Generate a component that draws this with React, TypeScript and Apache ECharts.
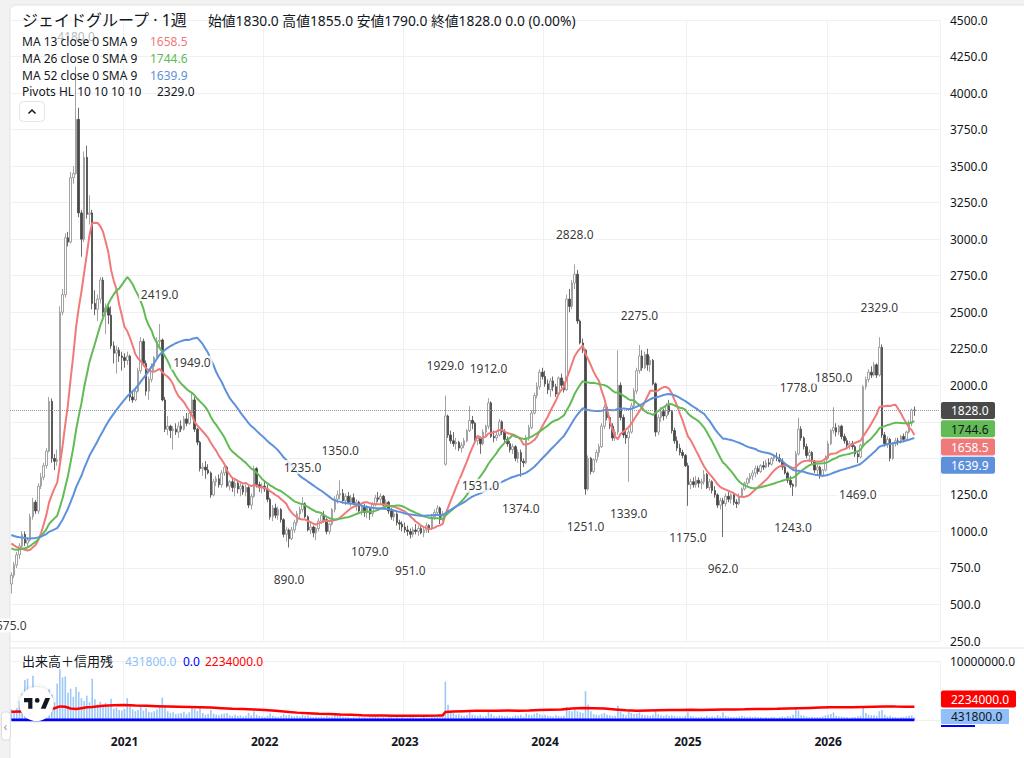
import React, { useEffect, useRef } from "react";
import * as echarts from "echarts";

const FONT = "'Noto Sans', 'Noto Sans CJK JP', sans-serif";
const TEXT = "#131722";
const RED = "#f07a7a";
const GREEN = "#62bb55";
const BLUE = "#5e91dc";

const START_DATE = "2020-03-16";
const PAD_WEEKS = 9;

const TITLE = "ジェイドグループ · 1週";
const LAST = { open: 1830.0, high: 1855.0, low: 1790.0, close: 1828.0 };
const MA_PERIODS = [13, 26, 52];
const MA_LABELS = ["MA 13 close 0 SMA 9", "MA 26 close 0 SMA 9", "MA 52 close 0 SMA 9"];
const MA_VALUES = ["1658.5", "1744.6", "1639.9"];
const PIVOT_LABEL = "Pivots HL 10 10 10 10";
const PIVOT_LAST = "2329.0";
const VOL_TITLE = "出来高＋信用残";
const VOL_LAST = 431800;
const ZERO_LAST = 0;
const CREDIT_LAST = 2234000;

const PRICE_MIN = 250;
const PRICE_MAX = 4500;
const PRICE_STEP = 250;
const PRICE_TOP = 20;
const PRICE_H = 621;

// closes of the 52 weeks before the first visible candle (for the moving averages)
const WARMUP_CLOSES = [
  1080, 1100, 1120, 1090, 1060, 1070, 1100, 1130, 1110, 1080, 1060, 1050, 1070, 1090,
  1080, 1060, 1040, 1050, 1070, 1060, 1040, 1030, 1020, 1040, 1050, 1030, 1020,
  960, 900, 860, 840, 820, 810, 830, 820, 800, 820, 840, 860, 890,
  950, 990, 1010, 1020, 1000, 1010, 1030, 990,
  930, 860, 780, 664,
];

// weekly [open, high, low, close]
const OHLC: number[][] = [
  /*0*/ [640,720,575,700],[700,790,680,770],[770,860,750,840],[840,920,810,900],[900,1000,880,980],[980,1000,900,920],[920,960,890,940],[940,1120,930,1100],[1100,1230,1080,1200],[1200,1215,1120,1140],
  /*10*/ [1140,1330,1120,1310],[1310,1400,1290,1370],[1370,1470,1350,1450],[1450,1570,1430,1550],[1550,1920,1540,1890],[1890,1910,1470,1500],[1500,1530,1420,1480],[1480,1560,1450,1490],[1490,2540,1480,2500],[2500,2660,2480,2620],
  /*20*/ [2620,3040,2600,3010],[3010,3050,2950,2980],[2980,3460,2970,3420],[3420,3500,3380,3450],[3450,4180,3440,3820],[3820,3900,3150,3180],[3180,3200,2880,3000],[3000,3600,2980,3560],[3560,3640,3140,3170],[3170,3300,3100,3180],
  /*30*/ [3180,3200,2520,2560],[2560,2650,2480,2520],[2520,2620,2440,2590],[2590,2740,2560,2720],[2720,2740,2470,2500],[2500,2560,2350,2530],[2530,2560,2420,2480],[2480,2540,2250,2270],[2270,2300,2150,2220],[2220,2270,2080,2240],
  /*40*/ [2240,2260,2160,2200],[2200,2230,2100,2190],[2190,2220,2120,2170],[2170,2230,2140,2200],[2200,2210,1890,1920],[1920,1960,1880,1900],[1900,1990,1890,1960],[1960,2120,1950,2100],[2100,2330,2080,2300],[2300,2320,2130,2150],
  /*50*/ [2150,2170,1930,1960],[1960,2060,1900,2040],[2040,2150,2020,2130],[2130,2200,2100,2190],[2190,2330,2170,2300],[2300,2419,2260,2310],[2310,2320,1890,1900],[1900,1920,1680,1700],[1700,1790,1660,1720],[1720,1730,1640,1690],
  /*60*/ [1690,1720,1560,1700],[1700,1740,1660,1680],[1680,1750,1640,1720],[1720,1760,1680,1700],[1700,1790,1690,1770],[1770,1810,1720,1740],[1740,1830,1730,1810],[1810,1949,1790,1900],[1900,1920,1680,1700],[1700,1710,1590,1610],
  /*70*/ [1610,1620,1410,1430],[1430,1470,1380,1440],[1440,1480,1360,1420],[1420,1460,1390,1400],[1400,1410,1230,1250],[1250,1360,1240,1340],[1340,1380,1310,1360],[1360,1390,1300,1320],[1320,1420,1300,1400],[1400,1450,1380,1440],
  /*80*/ [1440,1450,1300,1310],[1310,1350,1280,1340],[1340,1370,1270,1300],[1300,1360,1240,1330],[1330,1350,1260,1290],[1290,1330,1240,1310],[1310,1320,1250,1270],[1270,1320,1240,1300],[1300,1310,1160,1180],[1180,1260,1150,1240],
  /*90*/ [1240,1450,1230,1430],[1430,1440,1300,1320],[1320,1340,1270,1300],[1300,1330,1260,1310],[1310,1340,1270,1290],[1290,1320,1200,1220],[1220,1230,1080,1100],[1100,1180,1070,1160],[1160,1190,1090,1110],[1110,1170,1080,1150],
  /*100*/ [1150,1160,1060,1080],[1080,1090,960,980],[980,1030,930,1010],[1010,1020,890,950],[950,1030,940,1010],[1010,1080,990,1060],[1060,1140,1040,1120],[1120,1170,1090,1150],[1150,1235,1130,1190],[1190,1200,1090,1100],
  /*110*/ [1100,1110,1000,1010],[1010,1060,980,1030],[1030,1040,960,990],[990,1030,940,1020],[1020,1090,1000,1070],[1070,1130,1050,1110],[1110,1140,1060,1080],[1080,1090,980,1000],[1000,1060,980,1050],[1050,1160,1040,1150],
  /*120*/ [1150,1240,1130,1220],[1220,1280,1190,1250],[1250,1350,1220,1260],[1260,1290,1190,1210],[1210,1260,1180,1240],[1240,1270,1190,1200],[1200,1250,1170,1230],[1230,1260,1180,1190],[1190,1220,1140,1200],[1200,1210,1120,1140],
  /*130*/ [1140,1190,1110,1170],[1170,1190,1100,1130],[1130,1180,1090,1160],[1160,1170,1079,1120],[1120,1200,1100,1190],[1190,1250,1170,1230],[1230,1270,1200,1220],[1220,1260,1180,1240],[1240,1250,1170,1180],[1180,1220,1150,1200],
  /*140*/ [1200,1210,1120,1140],[1140,1160,1080,1100],[1100,1140,1070,1120],[1120,1130,1040,1060],[1060,1080,1010,1050],[1050,1070,1000,1030],[1030,1060,990,1010],[1010,1040,970,1000],[1000,1020,951,980],[980,1030,960,1010],
  /*150*/ [1010,1050,980,1000],[1000,1040,970,1020],[1020,1040,980,990],[990,1030,960,1010],[1010,1060,990,1040],[1040,1050,990,1020],[1020,1120,1010,1100],[1100,1150,1080,1130],[1130,1180,1110,1160],[1160,1170,1050,1080],
  /*160*/ [1080,1140,1070,1120],[1460,1929,1450,1790],[1790,1800,1640,1660],[1660,1690,1600,1620],[1620,1680,1580,1600],[1600,1640,1560,1610],[1610,1620,1550,1570],[1570,1610,1540,1590],[1590,1640,1570,1620],[1620,1700,1610,1690],
  /*170*/ [1690,1860,1680,1760],[1760,1790,1700,1740],[1740,1750,1600,1620],[1620,1660,1590,1640],[1640,1650,1531,1600],[1600,1700,1590,1680],[1680,1730,1640,1720],[1720,1912,1700,1880],[1880,1890,1640,1650],[1650,1690,1610,1640],
  /*180*/ [1640,1680,1620,1660],[1660,1770,1650,1750],[1750,1760,1660,1680],[1680,1700,1610,1630],[1630,1650,1580,1600],[1600,1620,1540,1560],[1560,1600,1530,1580],[1580,1590,1480,1500],[1500,1560,1470,1540],[1540,1560,1374,1480],
  /*190*/ [1480,1500,1440,1470],[1470,1660,1460,1640],[1640,1730,1620,1710],[1710,1830,1700,1810],[1810,1950,1800,1930],[1930,2020,1910,1990],[1990,2110,1970,2090],[2090,2120,2040,2060],[2060,2100,1990,2010],[2010,2040,1940,1970],
  /*200*/ [1970,2050,1920,2030],[2030,2060,1960,1990],[1990,2010,1920,1940],[1940,2060,1930,2050],[2050,2080,1980,2000],[2000,2030,1950,1970],[1970,2620,1960,2590],[2590,2660,2500,2540],[2540,2720,2520,2700],[2700,2828,2660,2760],
  /*210*/ [2760,2790,2420,2440],[2440,2450,2280,2290],[2290,2320,2220,2240],[2240,2250,1251,1290],[1290,1520,1280,1500],[1500,1510,1390,1410],[1410,1500,1400,1490],[1490,1560,1470,1540],[1540,1600,1510,1580],[1580,1740,1570,1720],
  /*220*/ [1720,1870,1700,1850],[1850,1860,1760,1780],[1780,1790,1700,1720],[1720,1740,1620,1640],[1640,1700,1620,1680],[1680,2240,1660,2000],[2000,2020,1760,1780],[1780,1800,1640,1660],[1660,1690,1600,1640],[1640,1700,1339,1680],
  /*230*/ [1680,1880,1670,1860],[1860,1980,1840,1960],[1960,2120,1940,2100],[2100,2275,2080,2200],[2200,2240,2100,2120],[2120,2230,2110,2210],[2210,2250,2100,2140],[2140,2200,2090,2170],[2170,2180,2000,2010],[2010,2020,1650,1680],
  /*240*/ [1680,1800,1660,1780],[1780,1850,1750,1820],[1820,1840,1760,1790],[1790,1880,1770,1860],[1860,1900,1800,1820],[1820,1830,1670,1690],[1690,1710,1600,1620],[1620,1650,1550,1570],[1570,1600,1520,1540],[1540,1560,1500,1520],
  /*250*/ [1520,1530,1440,1450],[1450,1470,1175,1320],[1320,1360,1290,1340],[1340,1370,1300,1320],[1320,1380,1300,1350],[1350,1370,1300,1330],[1330,1360,1290,1340],[1340,1420,1320,1390],[1390,1400,1290,1300],[1300,1360,1280,1340],
  /*260*/ [1340,1350,1260,1280],[1280,1310,1230,1250],[1250,1260,1160,1180],[1180,1230,1150,1210],[1210,1230,962,1190],[1190,1260,1170,1240],[1240,1270,1200,1220],[1220,1260,1190,1250],[1250,1270,1180,1200],[1200,1220,1160,1190],
  /*270*/ [1190,1260,1180,1240],[1240,1300,1230,1290],[1290,1340,1280,1330],[1330,1370,1310,1360],[1360,1400,1330,1380],[1380,1420,1350,1400],[1400,1450,1370,1430],[1430,1450,1390,1410],[1410,1460,1400,1450],[1450,1480,1420,1440],
  /*280*/ [1440,1490,1430,1470],[1470,1500,1440,1460],[1460,1510,1450,1500],[1500,1530,1480,1510],[1510,1540,1480,1500],[1500,1530,1470,1480],[1480,1500,1420,1440],[1440,1460,1390,1400],[1400,1410,1330,1350],[1350,1380,1300,1320],
  /*290*/ [1320,1330,1243,1310],[1310,1550,1300,1530],[1530,1778,1520,1700],[1700,1720,1620,1640],[1640,1650,1560,1580],[1580,1600,1500,1520],[1520,1560,1480,1540],[1540,1550,1460,1480],[1480,1490,1400,1420],[1420,1460,1380,1440],
  /*300*/ [1440,1450,1360,1380],[1380,1430,1370,1420],[1420,1520,1410,1500],[1500,1620,1490,1600],[1600,1700,1590,1690],[1690,1850,1670,1710],[1710,1740,1650,1680],[1680,1730,1660,1720],[1720,1730,1630,1650],[1650,1670,1600,1620],
  /*310*/ [1620,1640,1570,1590],[1590,1620,1560,1600],[1600,1620,1560,1580],[1580,1590,1510,1530],[1530,1550,1469,1510],[1510,1600,1500,1590],[1590,2000,1580,1990],[1990,2060,1970,2040],[2040,2110,2020,2090],[2090,2130,2050,2070],
  /*320*/ [2070,2160,2060,2140],[2140,2150,2050,2070],[2070,2329,2060,2260],[2260,2280,1640,1660],[1660,1680,1580,1600],[1600,1650,1570,1630],[1630,1640,1480,1500],[1500,1610,1490,1600],[1600,1640,1580,1620],[1620,1640,1590,1610],
  /*330*/ [1610,1660,1600,1650],[1650,1670,1610,1630],[1630,1690,1620,1680],[1680,1760,1670,1740],[1740,1840,1720,1830],[1830,1855,1790,1828],
];

// pivot highs / lows: [week index, price]
const PIVOT_HIGHS = [[24,4180],[55,2419],[67,1949],[108,1235],[122,1350],[161,1929],[177,1912],[209,2828],[233,2275],[292,1778],[305,1850],[322,2329]];
const PIVOT_LOWS = [[0,575],[103,890],[133,1079],[148,951],[174,1531],[189,1374],[213,1251],[229,1339],[251,1175],[264,962],[290,1243],[314,1469]];

// weekly volume, thousands of shares
const VOLUME_K = [
  /*0*/ 1800,1500,2000,3200,4500,6800,7000,5200,7500,4200,
  /*10*/ 5600,5300,3800,4800,5200,4300,3000,6200,8600,7200,
  /*20*/ 7400,4600,5300,3900,5600,4800,3700,3200,4100,3000,
  /*30*/ 7000,3500,2600,3100,2400,2900,2200,3600,1900,2100,
  /*40*/ 1700,1600,1900,3700,2600,1800,1500,1700,2200,1600,
  /*50*/ 2000,1400,1300,1500,1800,2300,3800,2400,1500,1200,
  /*60*/ 1300,1000,1100,1200,1400,1000,1300,2100,1900,1500,
  /*70*/ 2000,1200,900,1000,1700,1100,900,800,1000,1100,
  /*80*/ 1200,800,700,900,700,800,600,700,1200,800,
  /*90*/ 1500,900,700,600,500,700,1100,700,600,500,
  /*100*/ 700,1000,800,900,700,600,700,600,900,700,
  /*110*/ 800,600,500,600,500,600,500,700,500,600,
  /*120*/ 900,700,1000,600,500,500,400,500,400,500,
  /*130*/ 400,500,400,600,500,600,500,400,500,400,
  /*140*/ 500,600,400,500,400,500,400,400,600,500,
  /*150*/ 400,300,400,500,400,400,600,500,700,500,
  /*160*/ 600,6500,2600,1500,1200,900,1000,800,700,900,
  /*170*/ 1500,900,800,700,900,600,700,1500,1000,700,
  /*180*/ 600,800,700,600,700,500,600,800,700,900,
  /*190*/ 600,1100,900,800,1000,1200,1000,800,900,700,
  /*200*/ 700,600,800,700,600,700,2200,1600,1500,1800,
  /*210*/ 1500,1300,1200,4900,2600,1500,1000,900,800,1000,
  /*220*/ 1200,900,800,700,700,2400,1400,1000,800,1500,
  /*230*/ 1200,1000,1100,1300,900,800,800,700,900,1600,
  /*240*/ 1000,800,700,900,700,800,700,600,600,500,
  /*250*/ 700,1300,700,600,500,500,600,500,700,500,
  /*260*/ 600,500,800,600,1300,700,600,500,500,500,
  /*270*/ 600,700,600,500,600,500,600,500,500,400,
  /*280*/ 500,400,500,500,400,500,600,500,700,600,
  /*290*/ 900,1900,1600,800,700,600,500,600,500,500,
  /*300*/ 500,600,800,900,1000,1300,700,600,600,500,
  /*310*/ 500,400,500,500,600,700,2300,1200,900,800,
  /*320*/ 800,700,1500,1700,900,600,700,500,500,400,
  /*330*/ 500,500,600,700,800,431.8,
];

// margin balance (信用残), thousands of shares: [week index, value]
const CREDIT_K = [
  [0,1400],[4,1450],[8,1500],[12,1700],[16,2000],[18,2300],[20,2250],[22,1950],[24,1850],[26,2000],
  [28,2150],[30,2200],[34,2400],[38,2500],[42,2550],[46,2450],[50,2400],[54,2350],[58,2300],[62,2250],
  [66,2200],[70,2150],[74,2100],[78,2000],[82,1900],[86,1850],[90,1800],[94,1700],[98,1550],[102,1400],
  [106,1250],[110,1150],[114,1050],[118,1000],[122,920],[126,880],[130,820],[134,780],[138,760],[142,740],
  [146,720],[150,720],[154,740],[158,760],[160,780],[161,1350],[164,1450],[168,1500],[172,1550],[176,1580],
  [180,1560],[184,1600],[188,1580],[192,1620],[196,1700],[200,1750],[204,1800],[208,1950],[212,2050],[216,2000],
  [220,1950],[224,1800],[228,1650],[232,1550],[236,1600],[240,1650],[244,1680],[248,1700],[252,1720],[256,1700],
  [260,1750],[264,1780],[268,1800],[272,1820],[276,1850],[280,1880],[284,1900],[288,1950],[292,2000],[296,2050],
  [300,2100],[304,2150],[308,2180],[312,2150],[316,2200],[320,2250],[324,2300],[328,2270],[332,2250],[335,2234],
];

const TV_LOGO_PATH =
  "M14 22H7V11H0V4h14v18zM28 22h8l7.5-18h-8L28 22zM18 8a4 4 0 1 0 8 0a4 4 0 1 0 -8 0z";
echarts.graphic.registerShape("tvLogo", echarts.graphic.extendPath(TV_LOGO_PATH, {}) as any);

function buildDates(): string[] {
  const start = new Date(START_DATE + "T00:00:00Z").getTime();
  const out: string[] = [];
  for (let i = 0; i < OHLC.length + PAD_WEEKS; i++) {
    out.push(new Date(start + i * 7 * 86400000).toISOString().slice(0, 10));
  }
  return out;
}

function movingAverage(n: number): number[] {
  const closes = [...WARMUP_CLOSES, ...OHLC.map((r) => r[3])];
  const off = WARMUP_CLOSES.length;
  return OHLC.map((_, i) => {
    let s = 0;
    for (let k = off + i - n + 1; k <= off + i; k++) s += closes[k];
    return +(s / n).toFixed(1);
  });
}

// pixel of a price on the price pane (same geometry as the grid below)
const priceToY = (v: number) => PRICE_TOP + ((PRICE_MAX - v) / (PRICE_MAX - PRICE_MIN)) * PRICE_H;

// vertical centres of the stacked price tags (last price, MA26, MA13, MA52)
function tagCentres(): number[] {
  const vals = [LAST.close, Number(MA_VALUES[1]), Number(MA_VALUES[0]), Number(MA_VALUES[2])];
  const out: number[] = [];
  let prev = -Infinity;
  vals.forEach((v) => {
    const y = Math.max(priceToY(v), prev + 18.3);
    out.push(y);
    prev = y;
  });
  return out;
}

function txt(x: number, y: number, text: string, size: number, fill: string, extra: any = {}) {
  return {
    type: "text",
    x,
    y,
    z: 100,
    silent: true,
    style: {
      text,
      fill,
      fontSize: size,
      fontFamily: FONT,
      verticalAlign: "middle",
      align: "left",
      ...extra,
    },
  };
}

export default function App() {
  const ref = useRef<HTMLDivElement>(null);

  useEffect(() => {
    if (!ref.current) return;
    const chart = echarts.init(ref.current, undefined, { renderer: "svg" });
    const dates = buildDates();
    const yearStart = dates.map((d, i) => i > 0 && d.slice(0, 4) !== dates[i - 1].slice(0, 4));
    const isYear = (idx: number) => !!yearStart[idx];
    const maColors = [RED, GREEN, BLUE];
    const mas = MA_PERIODS.map((p) => movingAverage(p));
    const tags = tagCentres();

    const pivotLabel = (pos: "top" | "bottom") => ({
      show: true,
      position: pos,
      distance: pos === "top" ? 22 : 24,
      formatter: (p: any) => Number(p.value[1]).toFixed(1),
      color: "#000000",
      fontSize: 12,
      fontFamily: FONT,
      backgroundColor: "#ffffff",
      padding: [1, 2],
    });

    chart.setOption({
      animation: false,
      backgroundColor: "#f2f2f2",
      grid: [
        { left: 10, right: 84, top: PRICE_TOP, height: PRICE_H },
        { left: 10, right: 84, top: 661, height: 59 },
      ],
      xAxis: [
        {
          type: "category",
          gridIndex: 0,
          data: dates,
          boundaryGap: true,
          axisLine: { show: false },
          axisTick: { show: false },
          axisLabel: { show: false },
          splitLine: { show: true, interval: (i: number) => isYear(i), lineStyle: { color: "#eef0f4" } },
        },
        {
          type: "category",
          gridIndex: 1,
          data: dates,
          boundaryGap: true,
          axisLine: { show: false },
          axisTick: { show: false },
          axisLabel: {
            show: true,
            interval: (i: number) => isYear(i),
            formatter: (v: string) => v.slice(0, 4),
            color: TEXT,
            fontSize: 12,
            fontWeight: "bold",
            fontFamily: FONT,
            margin: 15,
          },
          splitLine: { show: true, interval: (i: number) => isYear(i), lineStyle: { color: "#eef0f4" } },
        },
      ],
      yAxis: [
        {
          type: "value",
          gridIndex: 0,
          position: "right",
          min: PRICE_MIN,
          max: PRICE_MAX,
          interval: PRICE_STEP,
          axisLine: { show: false },
          axisTick: { show: false },
          axisLabel: {
            // labels hidden behind the price tags are not drawn
            formatter: (v: number) => (tags.some((t) => Math.abs(priceToY(v) - t) < 14) ? "" : v.toFixed(1)),
            color: TEXT,
            fontSize: 12,
            fontFamily: FONT,
            margin: 10,
          },
          splitLine: { lineStyle: { color: "#eef0f4" } },
        },
        {
          type: "value",
          gridIndex: 1,
          position: "right",
          min: 0,
          max: 10000000,
          interval: 10000000,
          axisLine: { show: false },
          axisTick: { show: false },
          axisLabel: {
            formatter: (v: number) => (v === 0 ? "" : v.toFixed(1)),
            color: TEXT,
            fontSize: 12,
            fontFamily: FONT,
            margin: 10,
          },
          splitLine: { lineStyle: { color: "#eef0f4" } },
        },
      ],
      series: [
        {
          type: "candlestick",
          xAxisIndex: 0,
          yAxisIndex: 0,
          barWidth: 2,
          data: OHLC.map(([o, h, l, c]) => [o, c, l, h]),
          itemStyle: {
            color: "#ffffff",
            color0: "#474747",
            borderColor: "#8c8c8c",
            borderColor0: "#474747",
            borderWidth: 0.8,
          },
          markLine: {
            silent: true,
            symbol: "none",
            label: { show: false },
            lineStyle: { type: "dotted", color: "#9598a1", width: 1 },
            data: [{ yAxis: LAST.close }],
          },
        },
        ...mas.map((d, k) => ({
          type: "line",
          xAxisIndex: 0,
          yAxisIndex: 0,
          data: d,
          showSymbol: false,
          smooth: false,
          lineStyle: { color: maColors[k], width: 2 },
          z: 3,
        })),
        {
          type: "scatter",
          xAxisIndex: 0,
          yAxisIndex: 0,
          symbolSize: 2,
          itemStyle: { color: "rgba(0,0,0,0)" },
          silent: true,
          z: 10,
          data: PIVOT_HIGHS.map(([i, v]) =>
            i === 24
              ? { value: [i, v], label: { color: "#a3a6af", backgroundColor: "rgba(255,255,255,0)" } }
              : { value: [i, v] }
          ),
          label: pivotLabel("top"),
        },
        {
          type: "scatter",
          xAxisIndex: 0,
          yAxisIndex: 0,
          symbolSize: 2,
          itemStyle: { color: "rgba(0,0,0,0)" },
          silent: true,
          z: 10,
          data: PIVOT_LOWS.map(([i, v]) => ({ value: [i, v] })),
          label: pivotLabel("bottom"),
        },
        {
          type: "bar",
          xAxisIndex: 1,
          yAxisIndex: 1,
          barWidth: 1.6,
          data: VOLUME_K.map((v) => v * 1000),
          itemStyle: { color: "#9cc8f8" },
        },
        {
          type: "line",
          xAxisIndex: 1,
          yAxisIndex: 1,
          data: CREDIT_K.map(([i, v]) => [i, v * 1000]),
          showSymbol: false,
          lineStyle: { color: "#ff0000", width: 2.5 },
          z: 5,
        },
        {
          type: "line",
          xAxisIndex: 1,
          yAxisIndex: 1,
          data: OHLC.map(() => ZERO_LAST),
          showSymbol: false,
          lineStyle: { color: "#0000ff", width: 3 },
          z: 6,
        },
      ],
    });

    const py0 = (v: number) => chart.convertToPixel({ yAxisIndex: 0 }, v) as number;
    const py1 = (v: number) => chart.convertToPixel({ yAxisIndex: 1 }, v) as number;

    const tag = (y: number, w: number, text: string, bg: string, fg: string) => [
      { type: "rect", z: 100, silent: true, shape: { x: 941, y: y - 8.5, width: w, height: 17, r: 2 }, style: { fill: bg } },
      txt(951, y + 0.5, text, 12, fg),
    ];

    // price tags stacked below the last price (positions from the axis scale)
    const tagVals = [LAST.close, Number(MA_VALUES[1]), Number(MA_VALUES[0]), Number(MA_VALUES[2])];
    const tagStyle = [
      { bg: "#4a4a4a", fg: "#ffffff", text: LAST.close.toFixed(1) },
      { bg: GREEN, fg: "#131722", text: MA_VALUES[1] },
      { bg: RED, fg: "#ffffff", text: MA_VALUES[0] },
      { bg: BLUE, fg: "#ffffff", text: MA_VALUES[2] },
    ];
    const priceTags: any[] = [];
    let prevY = -Infinity;
    tagVals.forEach((v, k) => {
      const y = Math.max(py0(v), prevY + 18.3);
      prevY = y;
      priceTags.push(...tag(y, 54, tagStyle[k].text, tagStyle[k].bg, tagStyle[k].fg));
    });

    const volY = py1(VOL_LAST) - 1;
    const creditY = volY - 17.5;

    const headerY = 20;
    const rowY = [41, 58, 75, 91.5];

    const graphics: any[] = [
      { type: "rect", z: -10, silent: true, shape: { x: 10, y: 5, width: 1020, height: 760, r: [6, 0, 0, 0] }, style: { fill: "#ffffff", stroke: "#e3e3e3", lineWidth: 1 } },
      { type: "line", z: 50, silent: true, shape: { x1: 10, y1: 648, x2: 1024, y2: 648 }, style: { stroke: "#e0e3eb", lineWidth: 1 } },
      txt(22, headerY, TITLE, 16, TEXT),
      txt(
        208,
        headerY,
        `始値${LAST.open.toFixed(1)} 高値${LAST.high.toFixed(1)} 安値${LAST.low.toFixed(1)} 終値${LAST.close.toFixed(1)} 0.0 (0.00%)`,
        13.8,
        TEXT
      ),
      ...MA_LABELS.flatMap((l, k) => [txt(22, rowY[k], l, 12, TEXT), txt(150, rowY[k], MA_VALUES[k], 12, maColors[k])]),
      txt(22, rowY[3], PIVOT_LABEL, 12, TEXT),
      txt(157, rowY[3], PIVOT_LAST, 12, TEXT),
      { type: "rect", z: 100, silent: true, shape: { x: 19.5, y: 101.5, width: 25, height: 20, r: 4 }, style: { fill: "#ffffff", stroke: "#e0e3eb", lineWidth: 1 } },
      { type: "polyline", z: 101, silent: true, shape: { points: [[28.5, 113.5], [32, 110], [35.5, 113.5]] }, style: { stroke: TEXT, lineWidth: 1.5, fill: "none" } },
      ...priceTags,
      // volume pane legend
      txt(22, 661, VOL_TITLE, 13, TEXT),
      txt(125, 661, VOL_LAST.toFixed(1), 12, "#90bff9"),
      txt(183, 661, ZERO_LAST.toFixed(1), 12, "#0000ff"),
      txt(205, 661, CREDIT_LAST.toFixed(1), 12, "#ff0000"),
      // volume pane tags
      { type: "rect", z: 100, silent: true, shape: { x: 941, y: creditY - 8.5, width: 75, height: 17, r: 2 }, style: { fill: "#ff0000" } },
      txt(951, creditY + 0.5, CREDIT_LAST.toFixed(1), 12, "#ffffff"),
      { type: "rect", z: 100, silent: true, shape: { x: 941, y: volY - 7.5, width: 68, height: 15, r: 1 }, style: { fill: "#90bff9" } },
      txt(951, volY + 0.5, VOL_LAST.toFixed(1), 12, TEXT),
      { type: "line", z: 100, silent: true, shape: { x1: 941, y1: 726, x2: 975, y2: 726 }, style: { stroke: "#0000ff", lineWidth: 2 } },
      // TradingView badge
      { type: "circle", z: 90, silent: true, shape: { cx: 36.5, cy: 704, r: 17 }, style: { fill: "#ffffff", shadowBlur: 4, shadowColor: "rgba(0,0,0,0.18)" } },
      { type: "tvLogo", z: 91, silent: true, x: 24, y: 695.6, scaleX: 0.6, scaleY: 0.6, style: { fill: "#131722" } },
      // collapse tab
      { type: "rect", z: 100, silent: true, shape: { x: 1.5, y: 712, width: 9, height: 28, r: 3 }, style: { fill: "#ffffff", stroke: "#dcdcdc", lineWidth: 1 } },
      txt(3.5, 726, "‹", 12, "#9598a1"),
    ];

    chart.setOption({ graphic: { elements: graphics } });
    return () => chart.dispose();
  }, []);

  return <div ref={ref} style={{ position: "fixed", left: 0, top: 0, width: 1024, height: 758 }} />;
}
